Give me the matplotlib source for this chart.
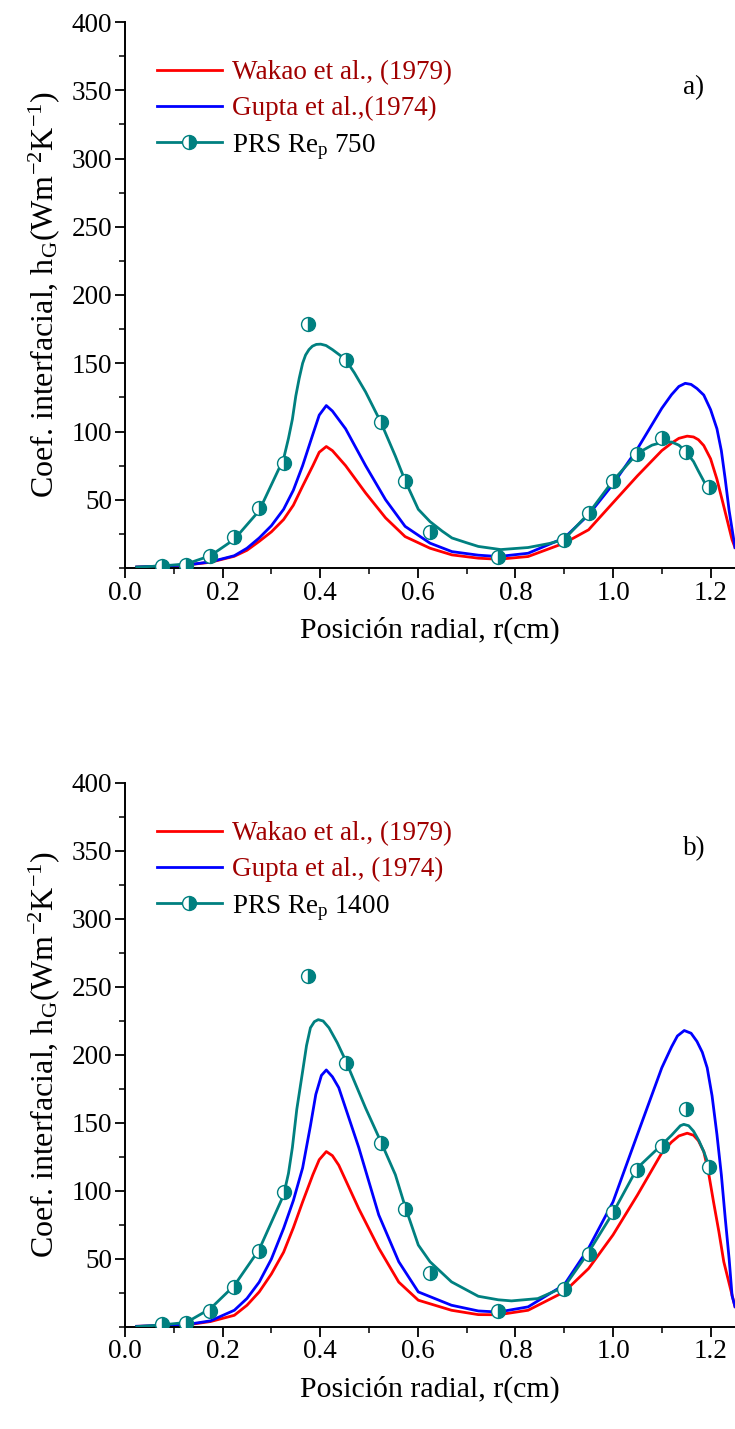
import matplotlib
matplotlib.use("Agg")
import matplotlib.pyplot as plt
from matplotlib.lines import Line2D
from matplotlib.ticker import MultipleLocator

plt.rcParams['font.family'] = ['Liberation Serif', 'DejaVu Serif']
plt.rcParams['mathtext.default'] = 'regular'

# ---- panel a) Re_p 750 ----
a_red_x = [0.024, 0.126, 0.175, 0.224, 0.250, 0.275, 0.300, 0.325, 0.345, 0.364, 0.385, 0.398,
           0.4125, 0.425, 0.452, 0.493, 0.534, 0.574, 0.625, 0.670, 0.724, 0.765, 0.826, 0.900,
           0.950, 1.000, 1.050, 1.100, 1.120, 1.135, 1.152, 1.165, 1.175, 1.186, 1.200, 1.213,
           1.225, 1.244, 1.25]
a_red_y = [0.7, 2.2, 4.2, 8.6, 13, 19.5, 26.5, 35.5, 46, 60, 75, 84.8,
           89, 86, 75, 55, 36.7, 23, 14.5, 9.6, 7.2, 6.4, 8.4, 18.2,
           28, 47.8, 67.5, 86, 91.5, 95, 96.6, 96, 94, 89.7, 80, 65,
           48, 20.7, 15]
a_blue_x = [0.024, 0.126, 0.175, 0.224, 0.250, 0.275, 0.300, 0.325, 0.345, 0.364, 0.385, 0.398,
            0.4125, 0.425, 0.452, 0.493, 0.534, 0.574, 0.625, 0.670, 0.724, 0.765, 0.826, 0.900,
            0.950, 1.000, 1.050, 1.100, 1.120, 1.135, 1.148, 1.160, 1.172, 1.186, 1.200, 1.213,
            1.222, 1.230, 1.238, 1.25]
a_blue_y = [0.7, 2.2, 4.5, 9, 14.5, 22, 31, 43, 57, 75, 98, 112,
            119, 115, 102, 75, 50, 30.5, 18.2, 12, 9.4, 8.4, 10.8, 22,
            39, 61.4, 87.3, 117, 127, 133, 135.3, 134.5, 131.5, 126.7, 116, 102,
            86, 65, 42, 15]
a_fit_x = [0.024, 0.076, 0.126, 0.175, 0.224, 0.275, 0.325, 0.335, 0.343, 0.350, 0.357, 0.364,
           0.370, 0.377, 0.384, 0.392, 0.401, 0.412, 0.425, 0.440, 0.452, 0.470, 0.493, 0.524,
           0.554, 0.574, 0.601, 0.625, 0.650, 0.670, 0.700, 0.724, 0.770, 0.826, 0.870, 0.900,
           0.950, 1.000, 1.050, 1.080, 1.100, 1.120, 1.135, 1.150, 1.165, 1.175, 1.187, 1.197]
a_fit_y = [0.7, 1.5, 3, 9, 21, 42, 80, 95, 109, 126, 139, 150,
           156, 160, 162.5, 163.8, 164, 163, 160, 156, 152.6, 143, 129, 107,
           82, 64, 43, 34, 27, 22, 18.5, 15.8, 13.5, 15, 18, 21,
           40, 64, 84, 90, 92, 92.3, 90, 85, 78, 71, 63, 56]
a_pts_x = [0.076, 0.126, 0.175, 0.224, 0.275, 0.325, 0.374, 0.452, 0.524, 0.574, 0.624,
           0.765, 0.900, 0.950, 1.000, 1.050, 1.100, 1.150, 1.197]
a_pts_y = [1.5, 2.5, 9, 23, 43.6, 76.7, 179, 152.6, 107, 63.8, 26.4,
           7.9, 20.2, 40, 63.4, 83.6, 95.6, 85.3, 59.2]

# ---- panel b) Re_p 1400 ----
b_red_x = [0.024, 0.126, 0.175, 0.224, 0.250, 0.275, 0.300, 0.325, 0.345, 0.364, 0.385, 0.398,
           0.4125, 0.425, 0.438, 0.479, 0.520, 0.561, 0.601, 0.669, 0.724, 0.765, 0.826, 0.900,
           0.950, 1.000, 1.050, 1.100, 1.120, 1.135, 1.152, 1.165, 1.175, 1.186, 1.196, 1.206,
           1.217, 1.227, 1.244, 1.25]
b_red_y = [0.5, 1.5, 4, 8.6, 16, 25.8, 39, 55, 73, 92, 112, 123,
           129, 126, 119, 87, 58, 33, 19.7, 12.3, 9.1, 9, 12.3, 25.8,
           43, 67.7, 97, 128, 136, 140.5, 142.5, 141, 137, 129, 113, 92,
           70, 48, 23.4, 15]
b_blue_x = [0.024, 0.126, 0.175, 0.224, 0.250, 0.275, 0.300, 0.325, 0.345, 0.364, 0.380, 0.391,
            0.4025, 0.4125, 0.425, 0.438, 0.479, 0.520, 0.561, 0.601, 0.669, 0.724, 0.765, 0.826,
            0.900, 0.950, 1.000, 1.050, 1.100, 1.120, 1.132, 1.146, 1.160, 1.172, 1.183, 1.193,
            1.203, 1.213, 1.222, 1.230, 1.238, 1.244, 1.25]
b_blue_y = [0.5, 1.8, 4.5, 12.3, 21, 33, 50, 72.5, 93, 117, 148, 171,
            185, 189, 184, 176, 132, 82.4, 48, 25.8, 16, 11.8, 11, 14.8,
            31, 58, 92, 141.5, 190.6, 206, 214, 218, 216, 210, 202, 190.6,
            170, 141.5, 112, 80, 50, 23, 15]
b_fit_x = [0.024, 0.076, 0.126, 0.175, 0.224, 0.275, 0.325, 0.335, 0.343, 0.352, 0.364, 0.372,
           0.380, 0.388, 0.396, 0.406, 0.418, 0.435, 0.452, 0.493, 0.524, 0.554, 0.574, 0.601,
           0.625, 0.669, 0.724, 0.765, 0.792, 0.846, 0.900, 0.950, 1.000, 1.050, 1.100, 1.120,
           1.138, 1.145, 1.155, 1.165, 1.176, 1.186, 1.197]
b_fit_y = [0.3, 1.5, 3.4, 13.5, 30.5, 57, 97, 113, 132, 160, 188, 207,
           220, 224.5, 226, 225, 220, 209, 196, 161, 136.5, 112, 88.6, 60.3,
           48, 33.2, 22.6, 20, 19.2, 20.9, 29.5, 55, 84, 117, 134, 141,
           148, 149, 148, 144, 137, 129, 118]
b_pts_x = [0.076, 0.126, 0.175, 0.224, 0.275, 0.325, 0.374, 0.452, 0.524, 0.574, 0.625,
           0.765, 0.900, 0.950, 1.000, 1.050, 1.100, 1.150, 1.197]
b_pts_y = [2, 3, 11.6, 29.5, 55.9, 98.9, 258, 194, 135.6, 86.6, 39.9,
           11.6, 27.9, 53.5, 84.3, 115.8, 133, 160, 118]

RED = '#FF0000'
BLUE = '#0000FF'
TEAL = '#008080'
DARKRED = '#A00000'
FS_TICK = 19.5
FS_LEG = 19.5
FS_XLAB = 21.5
FS_YLAB = 23

fig = plt.figure(figsize=(7.35, 14.29), dpi=100)
W, H = 735.0, 1429.0
ax1 = fig.add_axes([125 / W, 1 - 568 / H, 610 / W, 546 / H])
ax2 = fig.add_axes([125 / W, 1 - 1327 / H, 610 / W, 544 / H])

panels = [
    (ax1, a_red_x, a_red_y, a_blue_x, a_blue_y, a_fit_x, a_fit_y, a_pts_x, a_pts_y,
     ['Wakao et al., (1979)', 'Gupta et al.,(1974)', 'PRS Re$_p$ 750'], 'a)'),
    (ax2, b_red_x, b_red_y, b_blue_x, b_blue_y, b_fit_x, b_fit_y, b_pts_x, b_pts_y,
     ['Wakao et al., (1979)', 'Gupta et al., (1974)', 'PRS Re$_p$ 1400'], 'b)'),
]

for ax, rx, ry, bx, by, fx, fy, px, py, labels, tag in panels:
    ax.plot(rx, ry, color=RED, lw=2.0, solid_joinstyle='round', zorder=2)
    ax.plot(bx, by, color=BLUE, lw=2.0, solid_joinstyle='round', zorder=2)
    ax.plot(fx, fy, color=TEAL, lw=2.0, solid_joinstyle='round', zorder=3)
    ax.plot(px, py, ls='none', marker='o', ms=10, fillstyle='right', color=TEAL,
            markerfacecoloralt='white', markeredgecolor=TEAL, markeredgewidth=1.0, zorder=4)

    ax.set_xlim(0, 1.25)
    ax.set_ylim(0, 400)
    ax.xaxis.set_major_locator(MultipleLocator(0.2))
    ax.xaxis.set_minor_locator(MultipleLocator(0.1))
    ax.set_yticks([50, 100, 150, 200, 250, 300, 350, 400])
    ax.yaxis.set_minor_locator(MultipleLocator(25))
    ax.xaxis.set_major_formatter(plt.FuncFormatter(lambda v, p: f"{v:.1f}"))
    ax.tick_params(which='major', direction='out', length=7, width=1.3,
                   labelsize=FS_TICK, pad=2)
    ax.tick_params(which='minor', direction='out', length=4, width=1.1)
    for s in ['top', 'right']:
        ax.spines[s].set_visible(False)
    for s in ['left', 'bottom']:
        ax.spines[s].set_linewidth(1.4)

    ax.set_xlabel('Posición radial, r(cm)', fontsize=FS_XLAB, labelpad=8)
    ax.set_ylabel('Coef. interfacial, h$_G$(Wm$^{-2}$K$^{-1}$)', fontsize=FS_YLAB, labelpad=7)

    handles = [
        Line2D([], [], color=RED, lw=2.0),
        Line2D([], [], color=BLUE, lw=2.0),
        Line2D([], [], color=TEAL, lw=2.0, marker='o', ms=10, fillstyle='right',
               markerfacecoloralt='white', markeredgecolor=TEAL, markeredgewidth=1.0),
    ]
    leg = ax.legend(handles, labels, loc='upper left', bbox_to_anchor=(0.025, 0.96),
                    frameon=False, fontsize=FS_LEG, handlelength=2.4, handletextpad=0.4,
                    labelspacing=0.4, borderaxespad=0.2)
    leg.get_texts()[0].set_color(DARKRED)
    leg.get_texts()[1].set_color(DARKRED)

    ax.text(0.915, 0.88, tag, transform=ax.transAxes, fontsize=FS_LEG, ha='left', va='center')

fig.savefig('out.png', dpi=100)
